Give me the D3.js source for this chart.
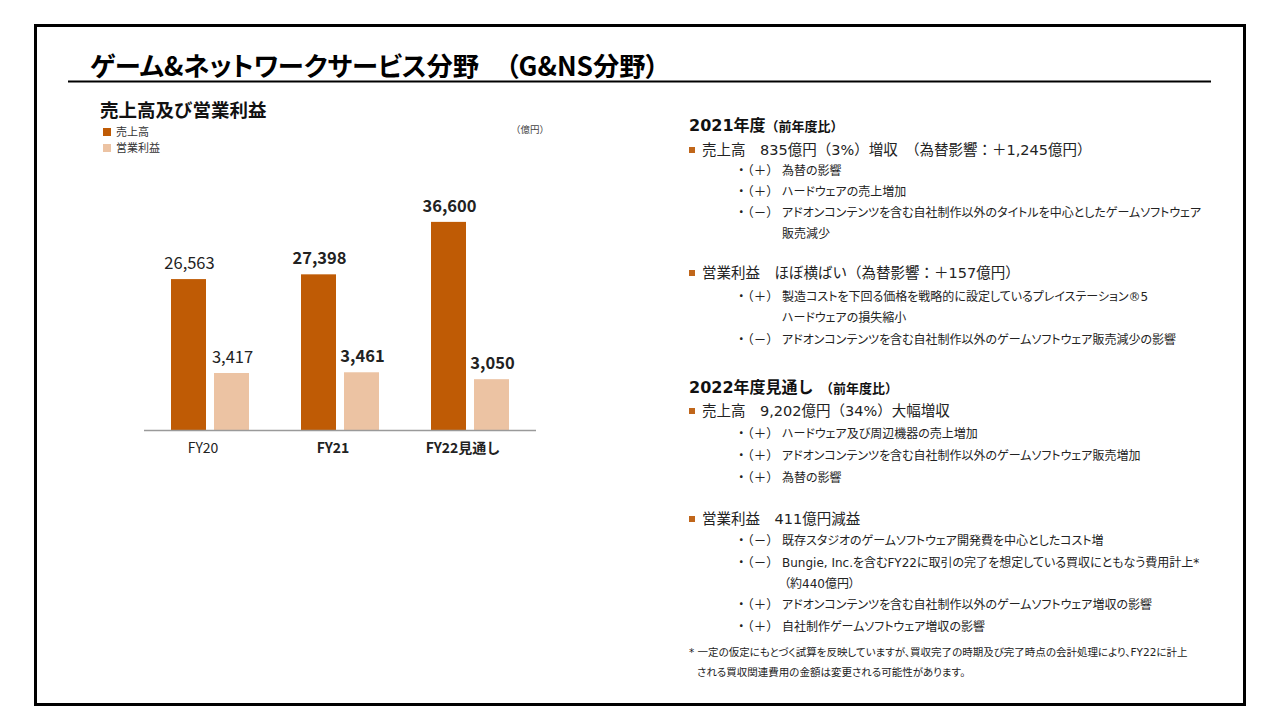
<!DOCTYPE html>
<html>
<head>
<meta charset="utf-8">
<script src="https://cdn.jsdelivr.net/npm/d3@7"></script>
<style>
  html, body { margin: 0; padding: 0; background: #fff; }
  svg { display: block; }
  text { font-family: "Noto Sans CJK JP", "Noto Sans", sans-serif; }
  .note { font-family: "DejaVu Sans", "Noto Sans CJK JP", sans-serif; }
  .palt { font-feature-settings: "palt"; }
</style>
</head>
<body>
<div id="chart"></div>
<script>
// ---------------- data ----------------
const categories = ["FY20", "FY21", "FY22見通し"];
const categoryBold = [false, true, true];
const seriesNames = ["売上高", "営業利益"];
const salesValues = [26563, 27398, 36600];
const profitValues = [3417, 3461, 3050];
const unitLabel = "（億円）";
const mainTitle = "ゲーム&ネットワークサービス分野　（G&NS分野）";
const chartTitle = "売上高及び営業利益";

// right-hand commentary: [type, text]
const notes2021 = [
  ["head", "2021年度", "（前年度比）"],
  ["main", "売上高　835億円（3%）増収　（為替影響：＋1,245億円）"],
  ["sub", "・（＋）", "為替の影響"],
  ["sub", "・（＋）", "ハードウェアの売上増加"],
  ["sub", "・（－）", "アドオンコンテンツを含む自社制作以外のタイトルを中心としたゲームソフトウェア"],
  ["wrap", "", "販売減少"],
  ["main", "営業利益　ほぼ横ばい（為替影響：＋157億円）"],
  ["sub", "・（＋）", "製造コストを下回る価格を戦略的に設定しているプレイステーション®5"],
  ["wrap", "", "ハードウェアの損失縮小"],
  ["sub", "・（－）", "アドオンコンテンツを含む自社制作以外のゲームソフトウェア販売減少の影響"]
];
const notes2021Y = [125, 150, 170, 191, 212, 233, 273, 296, 317, 339];
const notes2022 = [
  ["head", "2022年度見通し", "　（前年度比）"],
  ["main", "売上高　9,202億円（34%）大幅増収"],
  ["sub", "・（＋）", "ハードウェア及び周辺機器の売上増加"],
  ["sub", "・（＋）", "アドオンコンテンツを含む自社制作以外のゲームソフトウェア販売増加"],
  ["sub", "・（＋）", "為替の影響"],
  ["main", "営業利益　411億円減益"],
  ["sub", "・（－）", "既存スタジオのゲームソフトウェア開発費を中心としたコスト増"],
  ["sub", "・（－）", "Bungie, Inc.を含むFY22に取引の完了を想定している買収にともなう費用計上*"],
  ["wrap2", "", "（約440億円）"],
  ["sub", "・（＋）", "アドオンコンテンツを含む自社制作以外のゲームソフトウェア増収の影響"],
  ["sub", "・（＋）", "自社制作ゲームソフトウェア増収の影響"]
];
const notes2022Y = [387, 411, 433, 455, 477, 519, 540, 562, 583, 604, 626];
const footnotes = [
  "* 一定の仮定にもとづく試算を反映していますが、買収完了の時期及び完了時点の会計処理により、FY22に計上",
  "される買収関連費用の金額は変更される可能性があります。"
];
const footnoteY = [652, 672];

// ---------------- style ----------------
const W = 1280, H = 720;
const salesColor = "#bf5b05";
const profitColor = "#ecc3a3";
const bulletColor = "#c0661a";

const svg = d3.select("#chart").append("svg")
  .attr("width", W).attr("height", H);

svg.append("rect").attr("width", W).attr("height", H).attr("fill", "#fff");

// frame
svg.append("rect")
  .attr("x", 35.5).attr("y", 25.5).attr("width", 1209).attr("height", 679)
  .attr("fill", "none").attr("stroke", "#000").attr("stroke-width", 3);

// main title + rule
svg.append("text")
  .attr("x", 90).attr("y", 76)
  .attr("font-size", 26.3).attr("font-weight", 700).attr("fill", "#000")
  .attr("class", "palt")
  .text(mainTitle);
svg.append("line")
  .attr("x1", 68).attr("x2", 1211).attr("y1", 81.5).attr("y2", 81.5)
  .attr("stroke", "#000").attr("stroke-width", 2);

// chart title
svg.append("text")
  .attr("x", 100).attr("y", 116.5)
  .attr("font-size", 18.5).attr("font-weight", 700).attr("fill", "#111")
  .text(chartTitle);

// legend
const legendColors = [salesColor, profitColor];
const legend = svg.append("g");
seriesNames.forEach((name, i) => {
  legend.append("rect")
    .attr("x", 103).attr("y", 128 + i * 16).attr("width", 8).attr("height", 8)
    .attr("fill", legendColors[i]);
  legend.append("text")
    .attr("x", 116).attr("y", 136 + i * 16)
    .attr("font-size", 11).attr("fill", "#333")
    .text(name);
});

svg.append("text")
  .attr("x", 549).attr("y", 133).attr("text-anchor", "end")
  .attr("font-size", 9.5).attr("fill", "#444")
  .text(unitLabel);

// ---------------- chart ----------------
const baseY = 430.5;
const x = d3.scaleBand().domain(categories).range([145, 535]).padding(0);
const xSub = d3.scaleBand().domain(["sales", "profit"]).range([26, 104]).paddingInner(8 / 43).paddingOuter(0);
const ySales = d3.scaleLinear().domain([0, 40000]).range([baseY, baseY - 228]);
const yProfit = d3.scaleLinear().domain([0, 4000]).range([baseY, baseY - 67.3]);

const rows = categories.map((c, i) => ({
  cat: c, bold: categoryBold[i], sales: salesValues[i], profit: profitValues[i]
}));

const groups = svg.append("g").selectAll("g").data(rows).join("g")
  .attr("transform", d => `translate(${x(d.cat)},0)`);

groups.append("rect")
  .attr("x", xSub("sales")).attr("width", xSub.bandwidth())
  .attr("y", d => ySales(d.sales)).attr("height", d => baseY - ySales(d.sales))
  .attr("fill", salesColor);
groups.append("rect")
  .attr("x", xSub("profit")).attr("width", xSub.bandwidth())
  .attr("y", d => yProfit(d.profit)).attr("height", d => baseY - yProfit(d.profit))
  .attr("fill", profitColor);

const fmt = d3.format(",");
groups.append("text")
  .attr("x", xSub("sales") + xSub.bandwidth() / 2 + 1)
  .attr("y", d => ySales(d.sales) - 10)
  .attr("text-anchor", "middle").attr("font-size", 16.5)
  .attr("font-family", "Verdana, 'DejaVu Sans', sans-serif")
  .attr("font-weight", d => d.bold ? 700 : 400)
  .attr("fill", "#222")
  .text(d => fmt(d.sales));
groups.append("text")
  .attr("x", xSub("profit") + xSub.bandwidth() / 2 + 1)
  .attr("y", d => yProfit(d.profit) - 10)
  .attr("text-anchor", "middle").attr("font-size", 16.5)
  .attr("font-family", "Verdana, 'DejaVu Sans', sans-serif")
  .attr("font-weight", d => d.bold ? 700 : 400)
  .attr("fill", "#222")
  .text(d => fmt(d.profit));

const axis = svg.append("g")
  .attr("transform", `translate(0,${baseY})`)
  .call(d3.axisBottom(x).tickSize(0).tickPadding(13));
axis.select(".domain").attr("stroke", "#9a9a9a").attr("stroke-width", 1.5)
  .attr("d", "M144,0H536");
axis.selectAll(".tick text")
  .attr("dx", -7)
  .attr("font-size", 14)
  .attr("fill", "#222")
  .attr("font-family", "'Noto Sans CJK JP', sans-serif")
  .attr("font-weight", (d, i) => categoryBold[i] ? 700 : 400);

// ---------------- commentary ----------------
function drawNotes(list, ys) {
  list.forEach((item, i) => {
    const [type, a, b] = item;
    const cy = ys[i];
    if (type === "head") {
      const t = svg.append("text").attr("class", "note").attr("x", 689).attr("y", cy + 6).attr("fill", "#111")
        .attr("font-weight", 700);
      t.append("tspan").attr("font-size", 16).text(a);
      t.append("tspan").attr("font-size", 13).text(b);
    } else if (type === "main") {
      svg.append("rect").attr("x", 689).attr("y", cy - 3).attr("width", 6).attr("height", 6)
        .attr("fill", bulletColor);
      svg.append("text").attr("class", "note").attr("x", 702).attr("y", cy + 5)
        .attr("font-size", 14.5).attr("fill", "#222")
        .text(a);
    } else {
      if (a) {
        svg.append("text").attr("x", 735).attr("y", cy + 4.5)
          .attr("font-size", 12.5).attr("fill", "#222")
          .text(a);
      }
      svg.append("text").attr("class", "note palt").attr("x", type === "wrap2" ? 784 : 782).attr("y", cy + 4.5)
        .attr("font-size", 12).attr("fill", "#222")
        .text(b);
    }
  });
}
drawNotes(notes2021, notes2021Y);
drawNotes(notes2022, notes2022Y);

footnotes.forEach((f, i) => {
  svg.append("text").attr("class", "note palt").attr("x", i === 0 ? 689 : 697).attr("y", footnoteY[i] + 3.5)
    .attr("font-size", 10.5).attr("fill", "#222")
    .text(f);
});
</script>
</body>
</html>
